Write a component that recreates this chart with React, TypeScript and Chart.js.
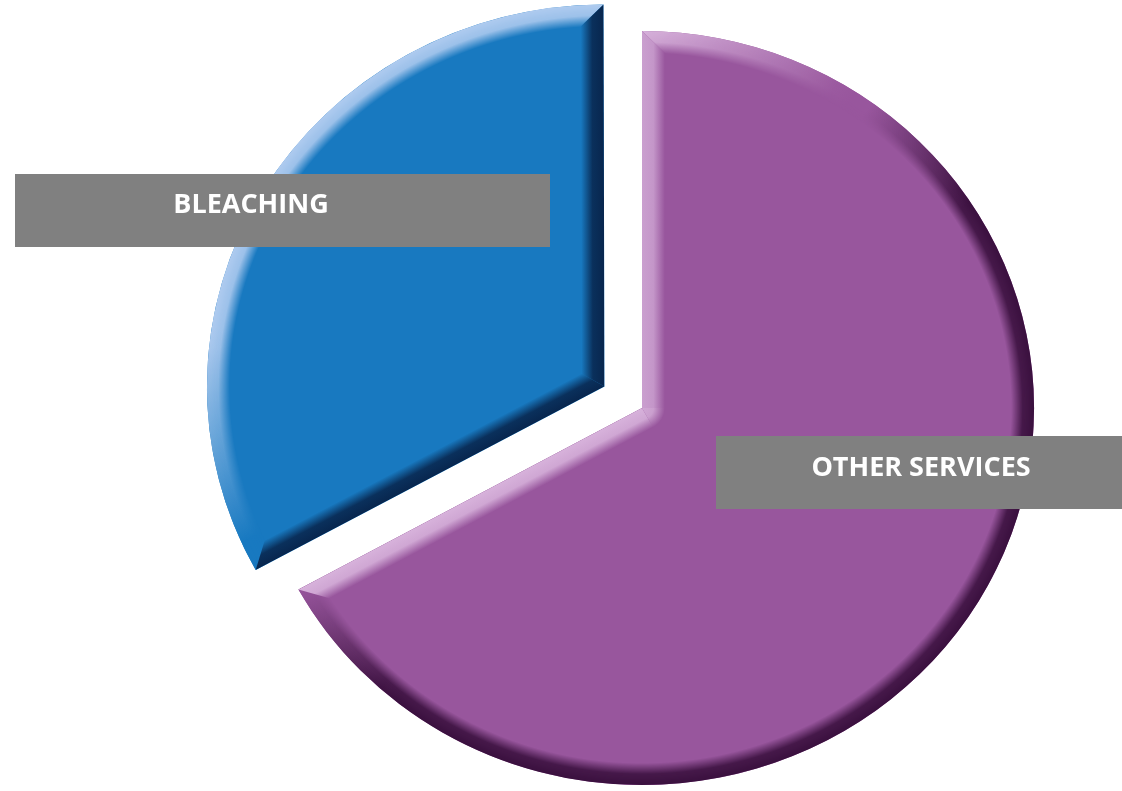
import React, { useEffect, useRef } from 'react';
import { Chart, registerables } from 'chart.js';

Chart.register(...registerables);

// ---- data ----
const categories = ['OTHER SERVICES', 'BLEACHING'];
const shares = [67, 33];
const explode = [0, 168]; // Chart.js offset (drawn shift = offset / 4)

// ---- styles ----
const FACE: number[][] = [[152, 86, 157], [24, 121, 192]];
const LIGHT: number[][] = [[222, 188, 226], [192, 212, 244]];
const DARK: number[][] = [[58, 16, 62], [8, 38, 78]];
const BEVEL = 22;
const LIGHT_DIR = [-0.66, -0.75];
const STRETCH_X = 1.04;

const labelBoxes: Record<string, { x: number; y: number; w: number; h: number; tx: number; ty: number }> = {
  'BLEACHING': { x: 15, y: 174, w: 535, h: 73, tx: 251, ty: 205 },
  'OTHER SERVICES': { x: 716, y: 436, w: 406, h: 73, tx: 921, ty: 468 },
};

const rgb = (c: number[], a = 1) => `rgba(${Math.round(c[0])},${Math.round(c[1])},${Math.round(c[2])},${a})`;
const mix = (a: number[], b: number[], t: number) => [0, 1, 2].map((k) => a[k] + (b[k] - a[k]) * t);

function shade(i: number, nx: number, ny: number): number[] {
  const t = LIGHT_DIR[0] * nx + LIGHT_DIR[1] * ny;
  if (t > 0.3) {
    const a = Math.min(1, (t - 0.3) / 0.45) * 0.9;
    return mix(FACE[i], LIGHT[i], a);
  }
  if (t < 0.22) {
    const a = Math.min(1, (0.22 - t) / 0.35);
    return mix(FACE[i], DARK[i], a);
  }
  return FACE[i];
}

function fillPoly(c: CanvasRenderingContext2D, pts: number[][]) {
  c.beginPath();
  c.moveTo(pts[0][0], pts[0][1]);
  for (let k = 1; k < pts.length; k++) c.lineTo(pts[k][0], pts[k][1]);
  c.closePath();
  c.fill();
}

const bevelPlugin = {
  id: 'bevel',
  beforeDatasetsDraw(chart: any) {
    const ctx: CanvasRenderingContext2D = chart.ctx;
    const a = chart.chartArea;
    const cx0 = (a.left + a.right) / 2;
    ctx.save();
    ctx.translate(cx0, 0);
    ctx.scale(STRETCH_X, 1);
    ctx.translate(-cx0, 0);
  },
  afterDatasetsDraw(chart: any) {
    const ctx: CanvasRenderingContext2D = chart.ctx;
    const meta = chart.getDatasetMeta(0);
    const W = chart.canvas.width, H = chart.canvas.height;
    if (!chart._bevelCanvas) {
      const c = document.createElement('canvas');
      c.width = W; c.height = H;
      chart._bevelCanvas = c;
    }
    const oc: HTMLCanvasElement = chart._bevelCanvas;
    const o = oc.getContext('2d')!;
    const w = BEVEL;
    const M = ctx.getTransform();
    meta.data.forEach((el: any, i: number) => {
      const p = el.getProps(['x', 'y', 'startAngle', 'endAngle', 'outerRadius'], true);
      const off = (el.options.offset || 0) / 4;
      const half = (p.startAngle + p.endAngle) / 2;
      const cx = p.x + Math.cos(half) * off;
      const cy = p.y + Math.sin(half) * off;
      const circ = p.endAngle - p.startAngle;
      const fix = 1 - Math.sin(Math.min(Math.PI, circ));
      const ro = off * fix;
      const R = p.outerRadius + ro;
      const beta = Math.max(0.001, circ * R - ro / Math.PI) / R;
      const ao = (circ - beta) / 2;
      const a0 = p.startAngle + ao, a1 = p.endAngle - ao;
      const alpha = a1 - a0;

      const slicePath = (c: CanvasRenderingContext2D) => {
        c.beginPath(); c.moveTo(cx, cy); c.arc(cx, cy, R, a0, a1); c.closePath();
      };
      const u0 = [Math.cos(a0), Math.sin(a0)], u1 = [Math.cos(a1), Math.sin(a1)];
      const n0 = [-u0[1], u0[0]], n1 = [u1[1], -u1[0]];
      const P0 = [cx + R * u0[0], cy + R * u0[1]], P1 = [cx + R * u1[0], cy + R * u1[1]];
      let M0: number[], M1: number[];
      if (alpha < Math.PI) {
        const bm = (a0 + a1) / 2;
        const d = w / Math.sin(alpha / 2);
        M0 = M1 = [cx + Math.cos(bm) * d, cy + Math.sin(bm) * d];
      } else {
        M0 = [cx + n0[0] * w, cy + n0[1] * w];
        M1 = [cx + n1[0] * w, cy + n1[1] * w];
      }
      const Q0 = [[cx, cy], P0, [P0[0] - w * u0[0] + w * n0[0], P0[1] - w * u0[1] + w * n0[1]], M0];
      const Q1 = [[cx, cy], P1, [P1[0] - w * u1[0] + w * n1[0], P1[1] - w * u1[1] + w * n1[1]], M1];

      // curved band, drawn off-screen then composited
      o.setTransform(1, 0, 0, 1, 0, 0);
      o.globalCompositeOperation = 'source-over';
      o.clearRect(0, 0, W, H);
      o.setTransform(M);
      o.save();
      slicePath(o); o.clip();
      const cg = (o as any).createConicGradient(0, cx, cy);
      const N = 120;
      for (let k = 0; k <= N; k++) {
        const th = (2 * Math.PI * k) / N;
        cg.addColorStop(k / N, rgb(shade(i, Math.cos(th), Math.sin(th))));
      }
      o.fillStyle = cg;
      o.fillRect(-100, -100, W + 200, H + 200);
      o.globalCompositeOperation = 'destination-in';
      const rg = o.createRadialGradient(cx, cy, R - w, cx, cy, R);
      rg.addColorStop(0, 'rgba(0,0,0,0)');
      rg.addColorStop(0.5, 'rgba(0,0,0,0.88)');
      rg.addColorStop(1, 'rgba(0,0,0,1)');
      o.fillStyle = rg;
      o.fillRect(-100, -100, W + 200, H + 200);
      o.globalCompositeOperation = 'destination-out';
      o.fillStyle = '#000';
      fillPoly(o, Q0); fillPoly(o, Q1);
      o.restore();
      o.globalCompositeOperation = 'source-over';

      ctx.save();
      ctx.setTransform(1, 0, 0, 1, 0, 0);
      ctx.drawImage(oc, 0, 0);
      ctx.restore();

      ctx.save();
      slicePath(ctx); ctx.clip();
      const strip = (Q: number[][], n: number[]) => {
        const col = shade(i, -n[0], -n[1]);
        const lg = ctx.createLinearGradient(cx, cy, cx + n[0] * w, cy + n[1] * w);
        lg.addColorStop(0, rgb(col, 1));
        lg.addColorStop(0.5, rgb(col, 0.88));
        lg.addColorStop(1, rgb(col, 0));
        ctx.fillStyle = lg;
        fillPoly(ctx, Q);
      };
      strip(Q0, n0);
      strip(Q1, n1);
      if (alpha >= Math.PI) {
        const col = mix(shade(i, -n0[0], -n0[1]), shade(i, -n1[0], -n1[1]), 0.5);
        const jg = ctx.createRadialGradient(cx, cy, 0, cx, cy, w);
        jg.addColorStop(0, rgb(col, 1));
        jg.addColorStop(0.5, rgb(col, 0.88));
        jg.addColorStop(1, rgb(col, 0));
        ctx.fillStyle = jg;
        ctx.beginPath();
        ctx.moveTo(cx, cy);
        ctx.arc(cx, cy, w, Math.atan2(n0[1], n0[0]), Math.atan2(n1[1], n1[0]));
        ctx.closePath();
        ctx.fill();
      }
      ctx.restore();
    });
    ctx.restore(); // undo stretch
  },
  afterDraw(chart: any) {
    const ctx: CanvasRenderingContext2D = chart.ctx;
    const labels: string[] = chart.data.labels;
    ctx.save();
    labels.forEach((lab) => {
      const b = labelBoxes[lab];
      if (!b) return;
      ctx.fillStyle = '#808080';
      ctx.fillRect(b.x, b.y, b.w, b.h);
      ctx.fillStyle = '#ffffff';
      ctx.font = 'bold 27px "Open Sans"';
      ctx.textAlign = 'center';
      ctx.textBaseline = 'middle';
      ctx.fillText(lab, b.tx, b.ty);
    });
    ctx.restore();
  },
};

export default function App() {
  const ref = useRef<HTMLCanvasElement>(null);
  useEffect(() => {
    const chart = new Chart(ref.current!, {
      type: 'pie',
      data: {
        labels: categories,
        datasets: [
          {
            data: shares,
            backgroundColor: FACE.map((c) => rgb(c)),
            borderWidth: 0,
            offset: explode,
            hoverOffset: 0,
            radius: 377,
          } as any,
        ],
      },
      options: {
        responsive: false,
        maintainAspectRatio: false,
        animation: false,
        events: [],
        layout: { padding: { left: 162, right: 0, top: 25, bottom: 0 } },
        plugins: {
          legend: { display: false },
          tooltip: { enabled: false },
          title: { display: false },
        },
      } as any,
      plugins: [bevelPlugin],
    });
    return () => chart.destroy();
  }, []);
  return (
    <div style={{ position: 'fixed', left: 0, top: 0, width: 1122, height: 791, background: '#ffffff' }}>
      <canvas ref={ref} width={1122} height={791} style={{ display: 'block' }} />
    </div>
  );
}
